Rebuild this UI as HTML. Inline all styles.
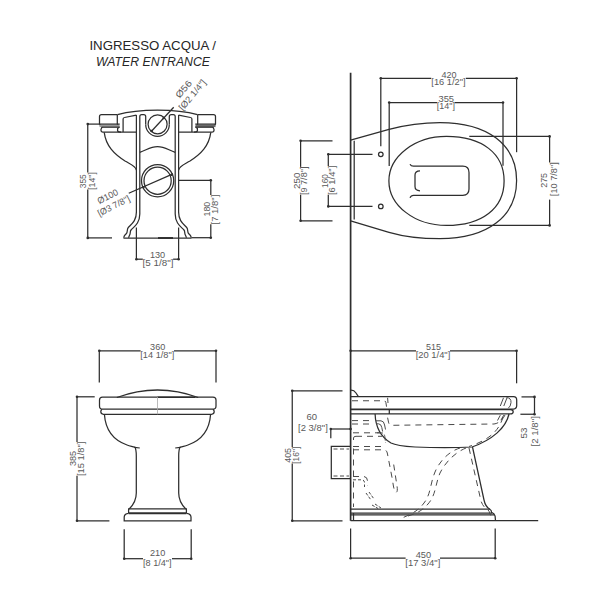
<!DOCTYPE html>
<html><head><meta charset="utf-8"><style>
html,body{margin:0;padding:0;background:#fff;width:600px;height:600px;overflow:hidden}
svg{display:block;font-family:"Liberation Sans",sans-serif}
</style></head><body>
<svg width="600" height="600" viewBox="0 0 600 600">
<rect width="600" height="600" fill="#fff"/>
<g>
<text x="152.7" y="50.2" font-size="13.5" text-anchor="middle" fill="#262626" textLength="126.5" lengthAdjust="spacingAndGlyphs">INGRESSO ACQUA /</text>
<text x="153" y="66" font-size="13.5" text-anchor="middle" fill="#262626" font-style="italic" textLength="114" lengthAdjust="spacingAndGlyphs">WATER ENTRANCE</text>
<path d="M117.5,114.6 C130,111 145,110 157.5,110 C170,110 185,111 197.5,114.6" stroke="#2e2e2e" stroke-width="1.25" fill="none"/>
<path d="M117.3,114.6 L101.5,114.6 Q99.5,114.6 99.5,116.6 L99.5,124.1 L102.0,127.4 L101.0,129.3 L101.0,130.3 Q101.0,132.1 103.0,132.1" stroke="#2e2e2e" stroke-width="1.25" fill="none"/>
<path d="M117.3,114.6 L117.3,124.1 L119.2,127.2 L117.6,128.6 L117.6,131 Q118.5,132.1 121.0,132.1" stroke="#2e2e2e" stroke-width="1.25" fill="none"/>
<rect x="99.50" y="124.6" width="20" height="2.5" fill="#9a9a9a"/>
<line x1="99.50" y1="124.10" x2="119.70" y2="124.10" stroke="#2e2e2e" stroke-width="1.25"/>
<line x1="101.60" y1="127.20" x2="119.20" y2="127.20" stroke="#2e2e2e" stroke-width="1.25"/>
<path d="M123.1,132.1 L123.1,119 Q123.1,117.7 124.5,117.5 L136.4,115.1" stroke="#2e2e2e" stroke-width="1.25" fill="none"/>
<line x1="103.00" y1="132.10" x2="136.40" y2="132.10" stroke="#2e2e2e" stroke-width="1.25"/>
<path d="M104.2,132.4 C106.0,146 114.0,154 125.0,161 C131.0,164.5 135.5,166 136.4,170" stroke="#2e2e2e" stroke-width="1.25" fill="none"/>
<path d="M136.4,212 L136.4,115" stroke="#2e2e2e" stroke-width="1.25" fill="none"/>
<path d="M139.8,214 L139.8,116.6 Q139.8,114.7 141.7,114.7 L143.7,114.7 Q145.7,114.7 145.7,116.6 L145.7,124.5" stroke="#2e2e2e" stroke-width="1.25" fill="none"/>
<path d="M136.4,212 C136.4,221 131.5,224 128.3,227.5 C126.5,229.5 128.2,231.5 126.2,233.8 C124.0,236 123.5,237.2 124.2,237.7" stroke="#2e2e2e" stroke-width="1.25" fill="none"/>
<path d="M139.8,214 C139.8,223 134.5,226.5 131.2,229.8 C129.5,231.6 131.0,233.4 129.5,235.3 L128.5,237.7" stroke="#2e2e2e" stroke-width="1.25" fill="none"/>
<path d="M197.7,114.6 L213.5,114.6 Q215.5,114.6 215.5,116.6 L215.5,124.1 L213.0,127.4 L214.0,129.3 L214.0,130.3 Q214.0,132.1 212.0,132.1" stroke="#2e2e2e" stroke-width="1.25" fill="none"/>
<path d="M197.7,114.6 L197.7,124.1 L195.8,127.2 L197.4,128.6 L197.4,131 Q196.5,132.1 194.0,132.1" stroke="#2e2e2e" stroke-width="1.25" fill="none"/>
<rect x="195.50" y="124.6" width="20" height="2.5" fill="#6a6a6a"/>
<line x1="215.50" y1="124.10" x2="195.30" y2="124.10" stroke="#2e2e2e" stroke-width="1.25"/>
<line x1="213.40" y1="127.20" x2="195.80" y2="127.20" stroke="#2e2e2e" stroke-width="1.25"/>
<path d="M191.9,132.1 L191.9,119 Q191.9,117.7 190.5,117.5 L178.6,115.1" stroke="#2e2e2e" stroke-width="1.25" fill="none"/>
<line x1="212.00" y1="132.10" x2="178.60" y2="132.10" stroke="#2e2e2e" stroke-width="1.25"/>
<path d="M210.8,132.4 C209.0,146 201.0,154 190.0,161 C184.0,164.5 179.5,166 178.6,170" stroke="#2e2e2e" stroke-width="1.25" fill="none"/>
<path d="M178.6,212 L178.6,115" stroke="#2e2e2e" stroke-width="1.25" fill="none"/>
<path d="M175.2,214 L175.2,116.6 Q175.2,114.7 173.3,114.7 L171.3,114.7 Q169.3,114.7 169.3,116.6 L169.3,124.5" stroke="#2e2e2e" stroke-width="1.25" fill="none"/>
<path d="M178.6,212 C178.6,221 183.5,224 186.7,227.5 C188.5,229.5 186.8,231.5 188.8,233.8 C191.0,236 191.5,237.2 190.8,237.7" stroke="#2e2e2e" stroke-width="1.25" fill="none"/>
<path d="M175.2,214 C175.2,223 180.5,226.5 183.8,229.8 C185.5,231.6 184.0,233.4 185.5,235.3 L186.5,237.7" stroke="#2e2e2e" stroke-width="1.25" fill="none"/>
<path d="M145.7,124.5 A11.8,11.8 0 0 0 169.3,124.5" stroke="#2e2e2e" stroke-width="1.25" fill="none"/>
<circle cx="157.6" cy="124.3" r="9.5" fill="none" stroke="#2e2e2e" stroke-width="1.25"/>
<path d="M139.8,152.3 C146,150.5 150,146.5 157.5,146.5 C165,146.5 169,150.5 175.2,152.3" stroke="#2e2e2e" stroke-width="1.25" fill="none"/>
<circle cx="157.6" cy="180.7" r="16.1" fill="none" stroke="#2e2e2e" stroke-width="1.25"/>
<circle cx="157.6" cy="180.7" r="13.6" fill="none" stroke="#2e2e2e" stroke-width="1.25"/>
<line x1="123.50" y1="238.00" x2="191.50" y2="238.00" stroke="#2e2e2e" stroke-width="1.25"/>
<line x1="158.00" y1="238.00" x2="173.00" y2="238.00" stroke="#2e2e2e" stroke-width="1.9"/>
<line x1="151.70" y1="131.00" x2="173.70" y2="107.30" stroke="#2e2e2e" stroke-width="1.25"/>
<circle cx="151.7" cy="131" r="1.3" fill="#2e2e2e"/>
<circle cx="163.7" cy="118" r="1.3" fill="#2e2e2e"/>
<line x1="128.75" y1="193.25" x2="173.00" y2="173.90" stroke="#2e2e2e" stroke-width="1.25"/>
<circle cx="143.3" cy="187.2" r="1.3" fill="#2e2e2e"/>
<circle cx="171.7" cy="174.7" r="1.3" fill="#2e2e2e"/>
<text transform="translate(183.50,89.00) rotate(-50)" y="3.24" font-size="9" text-anchor="middle" fill="#5a5a5a" textLength="20" lengthAdjust="spacingAndGlyphs">Ø56</text>
<text transform="translate(192.80,95.30) rotate(-50)" y="2.43" font-size="9" text-anchor="middle" fill="#5a5a5a" textLength="37" lengthAdjust="spacingAndGlyphs">[Ø2 1/4&quot;]</text>
<text transform="translate(107.70,196.30) rotate(-27)" y="3.24" font-size="9" text-anchor="middle" fill="#5a5a5a" textLength="22" lengthAdjust="spacingAndGlyphs">Ø100</text>
<text transform="translate(114.00,206.40) rotate(-27)" y="2.43" font-size="9" text-anchor="middle" fill="#5a5a5a" textLength="35" lengthAdjust="spacingAndGlyphs">[Ø3 7/8&quot;]</text>
<line x1="87.75" y1="124.10" x2="99.50" y2="124.10" stroke="#2e2e2e" stroke-width="1.25"/>
<line x1="87.75" y1="237.90" x2="112.00" y2="237.90" stroke="#2e2e2e" stroke-width="1.25"/>
<line x1="87.75" y1="124.10" x2="87.75" y2="172.50" stroke="#2e2e2e" stroke-width="1.25"/>
<line x1="87.75" y1="189.50" x2="87.75" y2="237.90" stroke="#2e2e2e" stroke-width="1.25"/>
<circle cx="87.75" cy="124.1" r="1.3" fill="#2e2e2e"/>
<circle cx="87.75" cy="237.9" r="1.3" fill="#2e2e2e"/>
<text transform="translate(83.25,181.25) rotate(-90)" y="3.10" font-size="8.6" text-anchor="middle" fill="#5a5a5a" textLength="14.1" lengthAdjust="spacingAndGlyphs">355</text>
<text transform="translate(92.25,181.00) rotate(-90)" y="2.32" font-size="8.6" text-anchor="middle" fill="#5a5a5a" textLength="17.6" lengthAdjust="spacingAndGlyphs">[14&quot;]</text>
<line x1="178.80" y1="180.30" x2="210.80" y2="180.30" stroke="#2e2e2e" stroke-width="1.25"/>
<line x1="191.50" y1="237.70" x2="210.80" y2="237.70" stroke="#2e2e2e" stroke-width="1.25"/>
<line x1="210.80" y1="180.30" x2="210.80" y2="195.00" stroke="#2e2e2e" stroke-width="1.25"/>
<line x1="210.80" y1="224.20" x2="210.80" y2="237.70" stroke="#2e2e2e" stroke-width="1.25"/>
<circle cx="210.8" cy="180.3" r="1.3" fill="#2e2e2e"/>
<circle cx="210.8" cy="237.7" r="1.3" fill="#2e2e2e"/>
<text transform="translate(206.90,209.10) rotate(-90)" y="3.10" font-size="8.6" text-anchor="middle" fill="#5a5a5a" textLength="14.85" lengthAdjust="spacingAndGlyphs">180</text>
<text transform="translate(215.60,209.60) rotate(-90)" y="2.32" font-size="8.6" text-anchor="middle" fill="#5a5a5a" textLength="29.8" lengthAdjust="spacingAndGlyphs">[7 1/8&quot;]</text>
<line x1="136.40" y1="227.50" x2="136.40" y2="259.20" stroke="#2e2e2e" stroke-width="1.25"/>
<line x1="178.60" y1="227.50" x2="178.60" y2="259.20" stroke="#2e2e2e" stroke-width="1.25"/>
<line x1="136.40" y1="259.20" x2="142.80" y2="259.20" stroke="#2e2e2e" stroke-width="1.25"/>
<line x1="173.10" y1="259.20" x2="178.60" y2="259.20" stroke="#2e2e2e" stroke-width="1.25"/>
<circle cx="136.4" cy="259.2" r="1.3" fill="#2e2e2e"/>
<circle cx="178.6" cy="259.2" r="1.3" fill="#2e2e2e"/>
<text transform="translate(157.55,255.30)" y="3.10" font-size="8.6" text-anchor="middle" fill="#5a5a5a" textLength="15.299999999999999" lengthAdjust="spacingAndGlyphs">130</text>
<text transform="translate(158.00,264.00)" y="2.32" font-size="8.6" text-anchor="middle" fill="#5a5a5a" textLength="30.900000000000002" lengthAdjust="spacingAndGlyphs">[5 1/8&quot;]</text>
<line x1="350.60" y1="72.80" x2="350.60" y2="520.70" stroke="#2e2e2e" stroke-width="1.7"/>
<line x1="354.20" y1="140.80" x2="354.20" y2="219.50" stroke="#2e2e2e" stroke-width="1.25"/>
<path d="M350.6,140.2 L389,129.3 C405,125 420,122.5 440,122.5 C487.5,122.5 516.6,144.5 516.6,180.5 C516.6,216.5 487.5,238.7 440,238.7 C420,238.7 400,235.5 389,232.3 L350.6,220.9" stroke="#2e2e2e" stroke-width="1.25" fill="none"/>
<path d="M446.5,136.4 C482,136.4 504.1,153.5 504.1,180.9 C504.1,208.3 482,225.4 446.5,225.4 C414.7,225.4 388.9,205.5 388.9,180.9 C388.9,156.3 414.7,136.4 446.5,136.4 Z" stroke="#2e2e2e" stroke-width="1.25" fill="none"/>
<path d="M410,164.2 Q411,166.2 413.5,166.2 L462.8,166.2 Q469,166.2 469,172.4 L469,189.1 Q469,195.3 462.8,195.3 L413.5,195.3 Q411,195.3 410,197.8" stroke="#2e2e2e" stroke-width="1.25" fill="none"/>
<path d="M420,170.8 Q415,170.8 415,175 L415,186.6 Q415,190.8 420,190.8" stroke="#2e2e2e" stroke-width="1.25" fill="none"/>
<circle cx="380.8" cy="154.3" r="2.3" fill="none" stroke="#2e2e2e" stroke-width="1.25"/>
<line x1="328.30" y1="154.30" x2="372.50" y2="154.30" stroke="#2e2e2e" stroke-width="1.25"/>
<circle cx="380.8" cy="206.4" r="2.3" fill="none" stroke="#2e2e2e" stroke-width="1.25"/>
<line x1="328.30" y1="206.40" x2="372.50" y2="206.40" stroke="#2e2e2e" stroke-width="1.25"/>
<line x1="380.80" y1="78.30" x2="380.80" y2="146.30" stroke="#2e2e2e" stroke-width="1.25"/>
<line x1="516.60" y1="78.30" x2="516.60" y2="152.20" stroke="#2e2e2e" stroke-width="1.25"/>
<line x1="380.80" y1="78.30" x2="431.25" y2="78.30" stroke="#2e2e2e" stroke-width="1.25"/>
<line x1="465.80" y1="78.30" x2="516.60" y2="78.30" stroke="#2e2e2e" stroke-width="1.25"/>
<circle cx="380.8" cy="78.3" r="1.3" fill="#2e2e2e"/>
<circle cx="516.6" cy="78.3" r="1.3" fill="#2e2e2e"/>
<text transform="translate(449.00,74.60)" y="3.10" font-size="8.6" text-anchor="middle" fill="#5a5a5a" textLength="15.15" lengthAdjust="spacingAndGlyphs">420</text>
<text transform="translate(448.50,83.10)" y="2.32" font-size="8.6" text-anchor="middle" fill="#5a5a5a" textLength="34.300000000000004" lengthAdjust="spacingAndGlyphs">[16 1/2&quot;]</text>
<line x1="389.20" y1="102.50" x2="389.20" y2="166.00" stroke="#2e2e2e" stroke-width="1.25"/>
<line x1="503.00" y1="102.50" x2="503.00" y2="165.70" stroke="#2e2e2e" stroke-width="1.25"/>
<line x1="389.20" y1="102.50" x2="437.00" y2="102.50" stroke="#2e2e2e" stroke-width="1.25"/>
<line x1="454.60" y1="102.50" x2="503.00" y2="102.50" stroke="#2e2e2e" stroke-width="1.25"/>
<circle cx="389.2" cy="102.5" r="1.3" fill="#2e2e2e"/>
<circle cx="503" cy="102.5" r="1.3" fill="#2e2e2e"/>
<text transform="translate(446.25,98.75)" y="3.10" font-size="8.6" text-anchor="middle" fill="#5a5a5a" textLength="15.6" lengthAdjust="spacingAndGlyphs">355</text>
<text transform="translate(445.80,107.10)" y="2.32" font-size="8.6" text-anchor="middle" fill="#5a5a5a" textLength="18.200000000000003" lengthAdjust="spacingAndGlyphs">[14&quot;]</text>
<line x1="469.30" y1="136.40" x2="549.60" y2="136.40" stroke="#2e2e2e" stroke-width="1.25"/>
<line x1="469.30" y1="225.40" x2="549.60" y2="225.40" stroke="#2e2e2e" stroke-width="1.25"/>
<line x1="549.60" y1="136.40" x2="549.60" y2="162.50" stroke="#2e2e2e" stroke-width="1.25"/>
<line x1="549.60" y1="199.60" x2="549.60" y2="225.40" stroke="#2e2e2e" stroke-width="1.25"/>
<circle cx="549.6" cy="136.4" r="1.3" fill="#2e2e2e"/>
<circle cx="549.6" cy="225.4" r="1.3" fill="#2e2e2e"/>
<text transform="translate(543.70,180.40) rotate(-90)" y="3.10" font-size="8.6" text-anchor="middle" fill="#5a5a5a" textLength="14.799999999999999" lengthAdjust="spacingAndGlyphs">275</text>
<text transform="translate(554.80,179.20) rotate(-90)" y="2.32" font-size="8.6" text-anchor="middle" fill="#5a5a5a" textLength="33.9" lengthAdjust="spacingAndGlyphs">[10 7/8&quot;]</text>
<line x1="300.60" y1="140.80" x2="332.50" y2="140.80" stroke="#2e2e2e" stroke-width="1.25"/>
<line x1="300.60" y1="220.80" x2="332.50" y2="220.80" stroke="#2e2e2e" stroke-width="1.25"/>
<line x1="300.60" y1="140.80" x2="300.60" y2="166.90" stroke="#2e2e2e" stroke-width="1.25"/>
<line x1="300.60" y1="194.70" x2="300.60" y2="220.80" stroke="#2e2e2e" stroke-width="1.25"/>
<circle cx="300.6" cy="140.8" r="1.3" fill="#2e2e2e"/>
<circle cx="300.6" cy="220.8" r="1.3" fill="#2e2e2e"/>
<text transform="translate(296.50,180.80) rotate(-90)" y="3.10" font-size="8.6" text-anchor="middle" fill="#5a5a5a" textLength="16.2" lengthAdjust="spacingAndGlyphs">250</text>
<text transform="translate(304.90,180.80) rotate(-90)" y="2.32" font-size="8.6" text-anchor="middle" fill="#5a5a5a" textLength="28.400000000000002" lengthAdjust="spacingAndGlyphs">[9 7/8&quot;]</text>
<line x1="328.30" y1="154.30" x2="328.30" y2="166.00" stroke="#2e2e2e" stroke-width="1.25"/>
<line x1="328.30" y1="194.70" x2="328.30" y2="206.40" stroke="#2e2e2e" stroke-width="1.25"/>
<circle cx="328.3" cy="154.3" r="1.3" fill="#2e2e2e"/>
<circle cx="328.3" cy="206.4" r="1.3" fill="#2e2e2e"/>
<text transform="translate(324.40,181.00) rotate(-90)" y="3.10" font-size="8.6" text-anchor="middle" fill="#5a5a5a" textLength="14.0" lengthAdjust="spacingAndGlyphs">160</text>
<text transform="translate(332.50,180.40) rotate(-90)" y="2.32" font-size="8.6" text-anchor="middle" fill="#5a5a5a" textLength="29.3" lengthAdjust="spacingAndGlyphs">[6 1/4&quot;]</text>
<line x1="99.30" y1="350.75" x2="99.30" y2="382.50" stroke="#2e2e2e" stroke-width="1.25"/>
<line x1="216.00" y1="350.75" x2="216.00" y2="382.50" stroke="#2e2e2e" stroke-width="1.25"/>
<line x1="99.30" y1="350.75" x2="140.60" y2="350.75" stroke="#2e2e2e" stroke-width="1.25"/>
<line x1="174.00" y1="350.75" x2="216.00" y2="350.75" stroke="#2e2e2e" stroke-width="1.25"/>
<circle cx="99.3" cy="350.75" r="1.3" fill="#2e2e2e"/>
<circle cx="216" cy="350.75" r="1.3" fill="#2e2e2e"/>
<text transform="translate(157.70,346.80)" y="3.10" font-size="8.6" text-anchor="middle" fill="#5a5a5a" textLength="15.2" lengthAdjust="spacingAndGlyphs">360</text>
<text transform="translate(157.30,355.80)" y="2.32" font-size="8.6" text-anchor="middle" fill="#5a5a5a" textLength="34.0" lengthAdjust="spacingAndGlyphs">[14 1/8&quot;]</text>
<path d="M116.8,397.5 Q157.5,382.5 198.2,397.5" stroke="#2e2e2e" stroke-width="1.25" fill="none"/>
<line x1="157.50" y1="397.20" x2="195.00" y2="397.20" stroke="#2e2e2e" stroke-width="1.6"/>
<path d="M102.5,397 L213,397 Q216,397 216,400 L216,406 Q216,409.2 213,409.2 L102.5,409.2 Q99.5,409.2 99.5,406 L99.5,400 Q99.5,397 102.5,397 Z" stroke="#2e2e2e" stroke-width="1.25" fill="none"/>
<path d="M102,409.2 Q100.8,410.2 100.8,411.6 Q100.8,414.3 103.5,414.3 L211.5,414.3 Q214.2,414.3 214.2,411.6 Q214.2,410.2 213,409.2" stroke="#2e2e2e" stroke-width="1.25" fill="none"/>
<line x1="157.50" y1="397.00" x2="157.50" y2="414.30" stroke="#aaa" stroke-width="0.8"/>
<path d="M104.4,414.3 C105.5,430 114,440.5 127,445 C131,446.3 133,446.6 134.6,447.3 L139.8,448" stroke="#2e2e2e" stroke-width="1.25" fill="none"/>
<path d="M210.6,414.3 C209.5,430 201,440.5 188,445 C184,446.3 182,446.6 180.4,447.3 L175.2,448" stroke="#2e2e2e" stroke-width="1.25" fill="none"/>
<path d="M134.6,446.5 Q136.3,449 136.3,456 L136.3,493 Q136.3,502 129.2,509" stroke="#2e2e2e" stroke-width="1.25" fill="none"/>
<path d="M180.4,446.5 Q178.7,449 178.7,456 L178.7,493 Q178.7,502 185.8,509" stroke="#2e2e2e" stroke-width="1.25" fill="none"/>
<path d="M128.6,513.3 L128.6,508.9 L186.4,508.9 L186.4,513.3" stroke="#2e2e2e" stroke-width="1.25" fill="none"/>
<line x1="128.60" y1="513.30" x2="186.40" y2="513.30" stroke="#2e2e2e" stroke-width="1.9"/>
<path d="M128.6,513.3 Q124.2,513.8 124.2,517 L124.2,520.9 L191,520.9 L191,517 Q191,513.8 186.4,513.3" stroke="#2e2e2e" stroke-width="1.25" fill="none"/>
<line x1="77.00" y1="396.80" x2="94.70" y2="396.80" stroke="#2e2e2e" stroke-width="1.25"/>
<line x1="77.00" y1="520.80" x2="109.40" y2="520.80" stroke="#2e2e2e" stroke-width="1.25"/>
<line x1="77.00" y1="396.80" x2="77.00" y2="442.00" stroke="#2e2e2e" stroke-width="1.25"/>
<line x1="77.00" y1="475.80" x2="77.00" y2="520.80" stroke="#2e2e2e" stroke-width="1.25"/>
<circle cx="77" cy="396.8" r="1.3" fill="#2e2e2e"/>
<circle cx="77" cy="520.8" r="1.3" fill="#2e2e2e"/>
<text transform="translate(72.85,458.50) rotate(-90)" y="3.10" font-size="8.6" text-anchor="middle" fill="#5a5a5a" textLength="15.15" lengthAdjust="spacingAndGlyphs">385</text>
<text transform="translate(81.85,458.90) rotate(-90)" y="2.32" font-size="8.6" text-anchor="middle" fill="#5a5a5a" textLength="34.4" lengthAdjust="spacingAndGlyphs">[15 1/8&quot;]</text>
<line x1="124.20" y1="529.20" x2="124.20" y2="558.70" stroke="#2e2e2e" stroke-width="1.25"/>
<line x1="191.20" y1="529.20" x2="191.20" y2="558.70" stroke="#2e2e2e" stroke-width="1.25"/>
<line x1="124.20" y1="558.70" x2="143.00" y2="558.70" stroke="#2e2e2e" stroke-width="1.25"/>
<line x1="172.00" y1="558.70" x2="191.20" y2="558.70" stroke="#2e2e2e" stroke-width="1.25"/>
<circle cx="124.2" cy="558.7" r="1.3" fill="#2e2e2e"/>
<circle cx="191.2" cy="558.7" r="1.3" fill="#2e2e2e"/>
<text transform="translate(157.65,552.50)" y="3.10" font-size="8.6" text-anchor="middle" fill="#5a5a5a" textLength="15.299999999999999" lengthAdjust="spacingAndGlyphs">210</text>
<text transform="translate(157.30,564.00)" y="2.32" font-size="8.6" text-anchor="middle" fill="#5a5a5a" textLength="28.6" lengthAdjust="spacingAndGlyphs">[8 1/4&quot;]</text>
<line x1="350.60" y1="350.80" x2="416.00" y2="350.80" stroke="#2e2e2e" stroke-width="1.25"/>
<line x1="450.00" y1="350.80" x2="516.60" y2="350.80" stroke="#2e2e2e" stroke-width="1.25"/>
<line x1="516.60" y1="350.80" x2="516.60" y2="383.30" stroke="#2e2e2e" stroke-width="1.25"/>
<circle cx="350.6" cy="350.8" r="1.3" fill="#2e2e2e"/>
<circle cx="516.6" cy="350.8" r="1.3" fill="#2e2e2e"/>
<text transform="translate(433.60,346.80)" y="3.10" font-size="8.6" text-anchor="middle" fill="#5a5a5a" textLength="15.0" lengthAdjust="spacingAndGlyphs">515</text>
<text transform="translate(433.00,355.80)" y="2.32" font-size="8.6" text-anchor="middle" fill="#5a5a5a" textLength="34.6" lengthAdjust="spacingAndGlyphs">[20 1/4&quot;]</text>
<path d="M350.6,390.25 Q354,390 356,393 L358.4,396.7" stroke="#2e2e2e" stroke-width="1.25" fill="none"/>
<path d="M350.6,396.7 L513.5,396.7 Q516.7,396.7 516.7,400 L516.7,405.5 Q516.7,408.7 513.5,409.2 L350.6,409.2" stroke="#2e2e2e" stroke-width="1.25" fill="none"/>
<path d="M350.6,409.5 L510.5,409.5 Q513.2,409.5 513.2,411.7 Q513.2,413.9 510.5,413.9 L350.6,413.9" stroke="#2e2e2e" stroke-width="1.25" fill="none"/>
<line x1="389.30" y1="409.50" x2="389.30" y2="413.90" stroke="#2e2e2e" stroke-width="1.25"/>
<path d="M375.1,413.9 C375.5,426 381,437 391,443 C396,445.5 402,446.2 415,447 C440,448 455,447.8 472,447 C492,440 506,428 509,414" stroke="#2e2e2e" stroke-width="1.25" fill="none"/>
<path d="M472.5,447 L484,500 Q485.5,507 489.8,509.2 Q491.6,510.2 491.6,512.4 Q494.6,513.6 495.1,516.2 L495.5,520.7" stroke="#2e2e2e" stroke-width="1.25" fill="none"/>
<line x1="350.60" y1="509.20" x2="490.00" y2="509.20" stroke="#2e2e2e" stroke-width="1.25"/>
<line x1="350.60" y1="513.00" x2="492.00" y2="513.00" stroke="#2e2e2e" stroke-width="1.25"/>
<line x1="350.60" y1="514.80" x2="494.00" y2="514.80" stroke="#2e2e2e" stroke-width="1.25"/>
<line x1="350.60" y1="520.70" x2="538.20" y2="520.70" stroke="#2e2e2e" stroke-width="1.25"/>
<line x1="353.50" y1="513.00" x2="353.50" y2="520.70" stroke="#2e2e2e" stroke-width="1.25"/>
<path d="M503.5,397.8 L500.3,406 M507,397.8 L503.8,406" stroke="#4a4a4a" stroke-width="1.0" fill="none"/>
<path d="M506.5,397.6 Q511.3,397.8 511,402.5 Q510.7,406.5 508.3,408.2" stroke="#4a4a4a" stroke-width="1.0" fill="none"/>
<path d="M500.3,415.2 L497.5,420.5 M503.7,415.2 L500.9,420.2" stroke="#4a4a4a" stroke-width="1.0" fill="none"/>
<path d="M352,400.75 L384.5,400.75 Q386,401 386.3,405 L386.8,409" stroke="#4a4a4a" stroke-width="1.0" fill="none" stroke-dasharray="6,5"/>
<path d="M387.6,397.8 L388,403" stroke="#4a4a4a" stroke-width="1.0" fill="none"/>
<path d="M352,420.6 L371,420.6" stroke="#4a4a4a" stroke-width="1.0" fill="none" stroke-dasharray="6,5"/>
<path d="M352,424 L371,424" stroke="#4a4a4a" stroke-width="1.0" fill="none" stroke-dasharray="6,5"/>
<path d="M376,420.8 L381,420.8 Q384,421 384.6,425 L385.5,429.5" stroke="#4a4a4a" stroke-width="1.0" fill="none"/>
<path d="M376,423.8 L378.5,423.8 Q381.2,424 381.8,427.5 L382.6,431.5" stroke="#4a4a4a" stroke-width="1.0" fill="none"/>
<path d="M377,432.8 L381.5,432.8 Q384.3,433 384.8,436.5 L385.6,443" stroke="#4a4a4a" stroke-width="1.0" fill="none" stroke-dasharray="6,2"/>
<path d="M387.6,417.7 L388.5,422 Q389,425.3 392,425.3 L494,424 Q501,423 505,415" stroke="#4a4a4a" stroke-width="1.0" fill="none" stroke-dasharray="6,5"/>
<path d="M353,432.8 L380,432.8" stroke="#4a4a4a" stroke-width="1.0" fill="none" stroke-dasharray="6,5"/>
<path d="M356,436.3 L382,436.3" stroke="#4a4a4a" stroke-width="1.0" fill="none" stroke-dasharray="6,5"/>
<path d="M353.5,440 L353.5,438 Q353.5,436.3 356,436.3" stroke="#4a4a4a" stroke-width="1.0" fill="none"/>
<path d="M353,449.8 L384,449.8 Q387,450 387.5,454 L392.5,480 Q394,492 396,492.4 Q398,492 397,486 L393,460" stroke="#4a4a4a" stroke-width="1.0" fill="none" stroke-dasharray="6,5"/>
<path d="M353,446.5 L382,446.5" stroke="#4a4a4a" stroke-width="1.0" fill="none" stroke-dasharray="6,5"/>
<path d="M353.5,448.5 L353.5,507" stroke="#4a4a4a" stroke-width="1.0" fill="none" stroke-dasharray="6,5"/>
<path d="M353,476.5 L364,476.5 Q367.5,477 367.5,481 L367.5,486" stroke="#4a4a4a" stroke-width="1.0" fill="none" stroke-dasharray="6,5"/>
<path d="M353,479.8 L362,479.8 Q364.5,480 364.5,483 L364.5,487" stroke="#4a4a4a" stroke-width="1.0" fill="none" stroke-dasharray="3,2"/>
<path d="M366,493 L371,500 M369,492 L374,499 M372,505 L378,508.5 M375,504 L381,508" stroke="#4a4a4a" stroke-width="1.0" fill="none" stroke-dasharray="3,1.5"/>
<path d="M503,417 C499,431 489,440 469,446.5" stroke="#4a4a4a" stroke-width="1.0" fill="none" stroke-dasharray="6,5"/>
<path d="M460,448 C450,451 440,460 435,472 C430,484 431,494 424,503 C419,510 412,514 402,518" stroke="#4a4a4a" stroke-width="1.0" fill="none" stroke-dasharray="6,5"/>
<path d="M466,448 C456,452 446,461 440,473 C435,485 436,495 428,504 C423,510 416,514 408,516" stroke="#4a4a4a" stroke-width="1.0" fill="none" stroke-dasharray="6,5"/>
<path d="M469,448 L481,501 Q483,507 487.5,509.5 Q489.5,511 490,514 L492,518" stroke="#4a4a4a" stroke-width="1.0" fill="none" stroke-dasharray="6,5"/>
<path d="M350.6,446.4 L331.3,446.4 L331.3,478.7 L350.6,478.7" stroke="#2e2e2e" stroke-width="1.25" fill="none"/>
<path d="M333.5,449 L349,449" stroke="#4a4a4a" stroke-width="1.0" fill="none" stroke-dasharray="4,2.5"/>
<path d="M333.5,476 L349,476" stroke="#4a4a4a" stroke-width="1.0" fill="none" stroke-dasharray="4,2.5"/>
<line x1="292.25" y1="390.80" x2="342.50" y2="390.80" stroke="#2e2e2e" stroke-width="1.25"/>
<line x1="292.25" y1="520.80" x2="342.50" y2="520.80" stroke="#2e2e2e" stroke-width="1.25"/>
<line x1="292.25" y1="390.80" x2="292.25" y2="447.00" stroke="#2e2e2e" stroke-width="1.25"/>
<line x1="292.25" y1="463.50" x2="292.25" y2="520.80" stroke="#2e2e2e" stroke-width="1.25"/>
<circle cx="292.25" cy="390.8" r="1.3" fill="#2e2e2e"/>
<circle cx="292.25" cy="520.8" r="1.3" fill="#2e2e2e"/>
<text transform="translate(288.25,455.40) rotate(-90)" y="3.10" font-size="8.6" text-anchor="middle" fill="#5a5a5a" textLength="14.85" lengthAdjust="spacingAndGlyphs">405</text>
<text transform="translate(297.00,455.25) rotate(-90)" y="2.32" font-size="8.6" text-anchor="middle" fill="#5a5a5a" textLength="17.1" lengthAdjust="spacingAndGlyphs">[16&quot;]</text>
<line x1="330.80" y1="429.00" x2="350.60" y2="429.00" stroke="#2e2e2e" stroke-width="1.25"/>
<line x1="330.80" y1="429.00" x2="330.80" y2="438.30" stroke="#2e2e2e" stroke-width="1.25"/>
<circle cx="330.8" cy="429" r="1.3" fill="#2e2e2e"/>
<circle cx="350.6" cy="429" r="1.3" fill="#2e2e2e"/>
<text transform="translate(311.70,416.50)" y="3.10" font-size="8.6" text-anchor="middle" fill="#5a5a5a" textLength="10.6" lengthAdjust="spacingAndGlyphs">60</text>
<text transform="translate(312.90,428.50)" y="2.32" font-size="8.6" text-anchor="middle" fill="#5a5a5a" textLength="29.8" lengthAdjust="spacingAndGlyphs">[2 3/8&quot;]</text>
<line x1="521.50" y1="396.90" x2="534.50" y2="396.90" stroke="#2e2e2e" stroke-width="1.25"/>
<line x1="520.40" y1="414.25" x2="534.50" y2="414.25" stroke="#2e2e2e" stroke-width="1.25"/>
<line x1="534.50" y1="396.90" x2="534.50" y2="414.25" stroke="#2e2e2e" stroke-width="1.25"/>
<circle cx="534.5" cy="396.9" r="1.3" fill="#2e2e2e"/>
<circle cx="534.5" cy="414.25" r="1.3" fill="#2e2e2e"/>
<text transform="translate(523.70,433.00) rotate(-90)" y="3.10" font-size="8.6" text-anchor="middle" fill="#5a5a5a" textLength="10.9" lengthAdjust="spacingAndGlyphs">53</text>
<text transform="translate(535.30,431.30) rotate(-90)" y="2.32" font-size="8.6" text-anchor="middle" fill="#5a5a5a" textLength="30.400000000000002" lengthAdjust="spacingAndGlyphs">[2 1/8&quot;]</text>
<line x1="350.60" y1="528.50" x2="350.60" y2="558.20" stroke="#2e2e2e" stroke-width="1.25"/>
<line x1="495.20" y1="528.50" x2="495.20" y2="558.20" stroke="#2e2e2e" stroke-width="1.25"/>
<line x1="350.60" y1="558.20" x2="405.60" y2="558.20" stroke="#2e2e2e" stroke-width="1.25"/>
<line x1="440.00" y1="558.20" x2="495.20" y2="558.20" stroke="#2e2e2e" stroke-width="1.25"/>
<circle cx="350.6" cy="558.2" r="1.3" fill="#2e2e2e"/>
<circle cx="495.2" cy="558.2" r="1.3" fill="#2e2e2e"/>
<text transform="translate(423.40,554.60)" y="3.10" font-size="8.6" text-anchor="middle" fill="#5a5a5a" textLength="15.4" lengthAdjust="spacingAndGlyphs">450</text>
<text transform="translate(422.80,563.20)" y="2.32" font-size="8.6" text-anchor="middle" fill="#5a5a5a" textLength="35.0" lengthAdjust="spacingAndGlyphs">[17 3/4&quot;]</text>
</g>
</svg>
</body></html>
